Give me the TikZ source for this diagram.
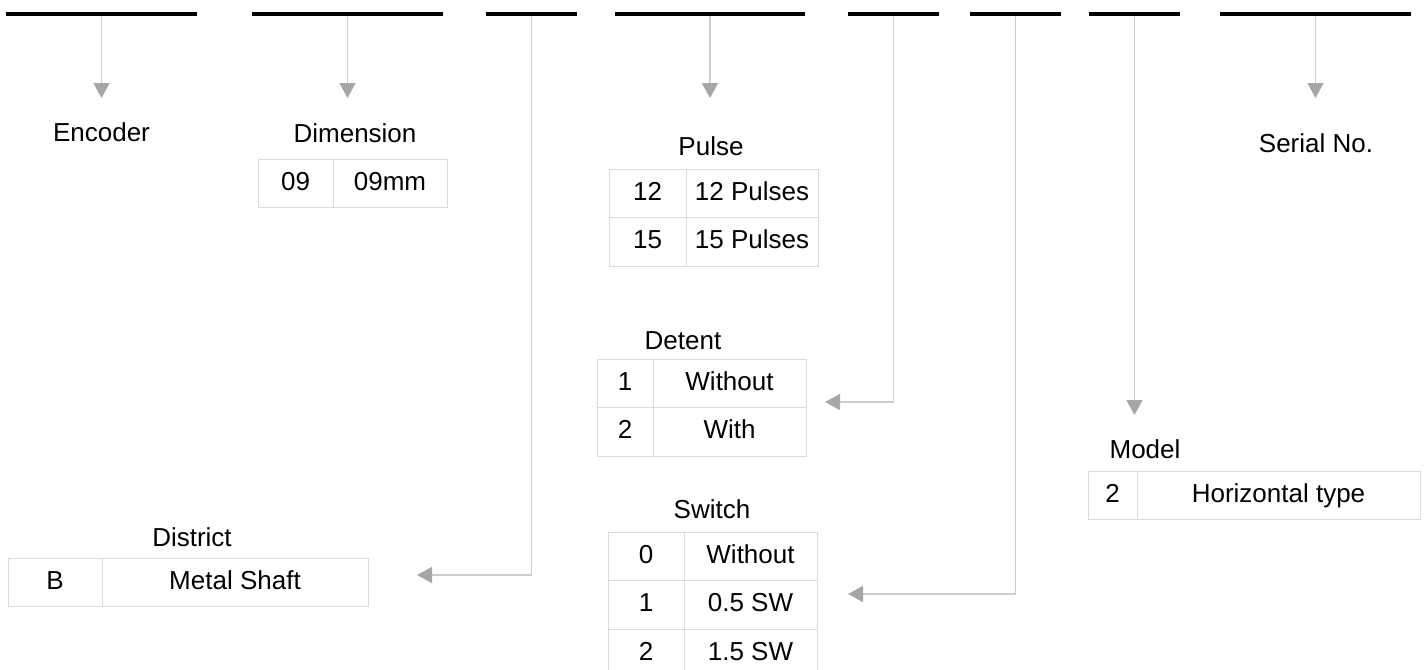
\documentclass[tikz,border=0pt]{standalone}
\usepackage{fontspec}
\setmainfont{Liberation Sans}
\usetikzlibrary{arrows.meta, positioning}
\definecolor{LineGray}{RGB}{205,205,205}
\definecolor{HeadGray}{RGB}{166,166,166}
\definecolor{CellGray}{RGB}{218,218,218}

\begin{document}
\begin{tikzpicture}[
    x=0.5pt, y=-0.5pt,
    font=\fontsize{13}{15}\selectfont,
    bar/.style={fill=black, inner sep=0pt, outer sep=0pt, minimum height=2pt},
    title/.style={inner sep=0pt},
    cell/.style={draw=CellGray, line width=0.5pt, inner sep=0pt, outer sep=0pt,
        minimum height=24.25pt, text height=0.9em, text depth=0.18em},
    flow/.style={-{Triangle[length=7.5pt, width=8pt, color=HeadGray]},
        line width=0.7pt, LineGray},
]
\useasboundingbox (0,0) rectangle (1427,669);

% barras del codigo
\foreach \n/\x/\w in {1/101.5/95.5pt, 2/347.5/95.5pt, 3/531.5/45.5pt, 4/710/95pt,
                      5/893.5/45.5pt, 6/1015.5/45.5pt, 7/1134.5/45.5pt, 8/1315.5/95.5pt}
    \node[bar, minimum width=\w] (b\n) at (\x,14) {};

% titulos
\node[title] (enc) at (101.5,132) {Encoder};
\node[title] (dim) at (355,133) {Dimension};
\node[title] (pul) at (711,146) {Pulse};
\node[title] (ser) at (1316,143) {Serial No.};
\node[title] (det) at (683,341) {Detent};
\node[title] (dis) at (192,537) {District};
\node[title] (swi) at (712,509) {Switch};
\node[title] (mod) at (1145,449) {Model};

% Dimension
\node[cell, minimum width=37.5pt, anchor=north west] (dim1a) at (258,159) {09};
\node[cell, minimum width=57pt, right=0pt of dim1a] (dim1b) {09mm};

% Pulse
\node[cell, minimum width=38.5pt, anchor=north west] (pul1a) at (609,169) {12};
\node[cell, minimum width=66pt, right=0pt of pul1a] (pul1b) {12 Pulses};
\node[cell, minimum width=38.5pt, below=0pt of pul1a] (pul2a) {15};
\node[cell, minimum width=66pt, below=0pt of pul1b] (pul2b) {15 Pulses};

% Detent
\node[cell, minimum width=28pt, anchor=north west] (det1a) at (597,359) {1};
\node[cell, minimum width=76.5pt, right=0pt of det1a] (det1b) {Without};
\node[cell, minimum width=28pt, below=0pt of det1a] (det2a) {2};
\node[cell, minimum width=76.5pt, below=0pt of det1b] (det2b) {With};

% District
\node[cell, minimum width=47pt, anchor=north west] (dis1a) at (8,558) {B};
\node[cell, minimum width=133pt, right=0pt of dis1a] (dis1b) {Metal Shaft};

% Switch
\node[cell, minimum width=38pt, anchor=north west] (swi1a) at (608,532) {0};
\node[cell, minimum width=66.5pt, right=0pt of swi1a] (swi1b) {Without};
\node[cell, minimum width=38pt, below=0pt of swi1a] (swi2a) {1};
\node[cell, minimum width=66.5pt, below=0pt of swi1b] (swi2b) {0.5 SW};
\node[cell, minimum width=38pt, below=0pt of swi2a] (swi3a) {2};
\node[cell, minimum width=66.5pt, below=0pt of swi2b] (swi3b) {1.5 SW};

% Model
\node[cell, minimum width=24.5pt, anchor=north west] (mod1a) at (1088,471) {2};
\node[cell, minimum width=141.5pt, right=0pt of mod1a] (mod1b) {Horizontal type};

% puntas de flecha
\coordinate (t1) at (101.5,98);
\coordinate (t2) at (347.5,98);
\coordinate (t4) at (710,98);
\coordinate (t7) at (1134.5,415);
\coordinate (t8) at (1315.5,98);
\coordinate (t3) at (417,575);
\coordinate (t5) at (825,402);
\coordinate (t6) at (848,594);

\foreach \a/\b in {b1/t1, b2/t2, b4/t4, b7/t7, b8/t8}
    \draw[flow] (\a.south) -- (\b);
\foreach \a/\b in {b3/t3, b5/t5, b6/t6}
    \draw[flow] (\a.south) |- (\b);

\end{tikzpicture}
\end{document}
